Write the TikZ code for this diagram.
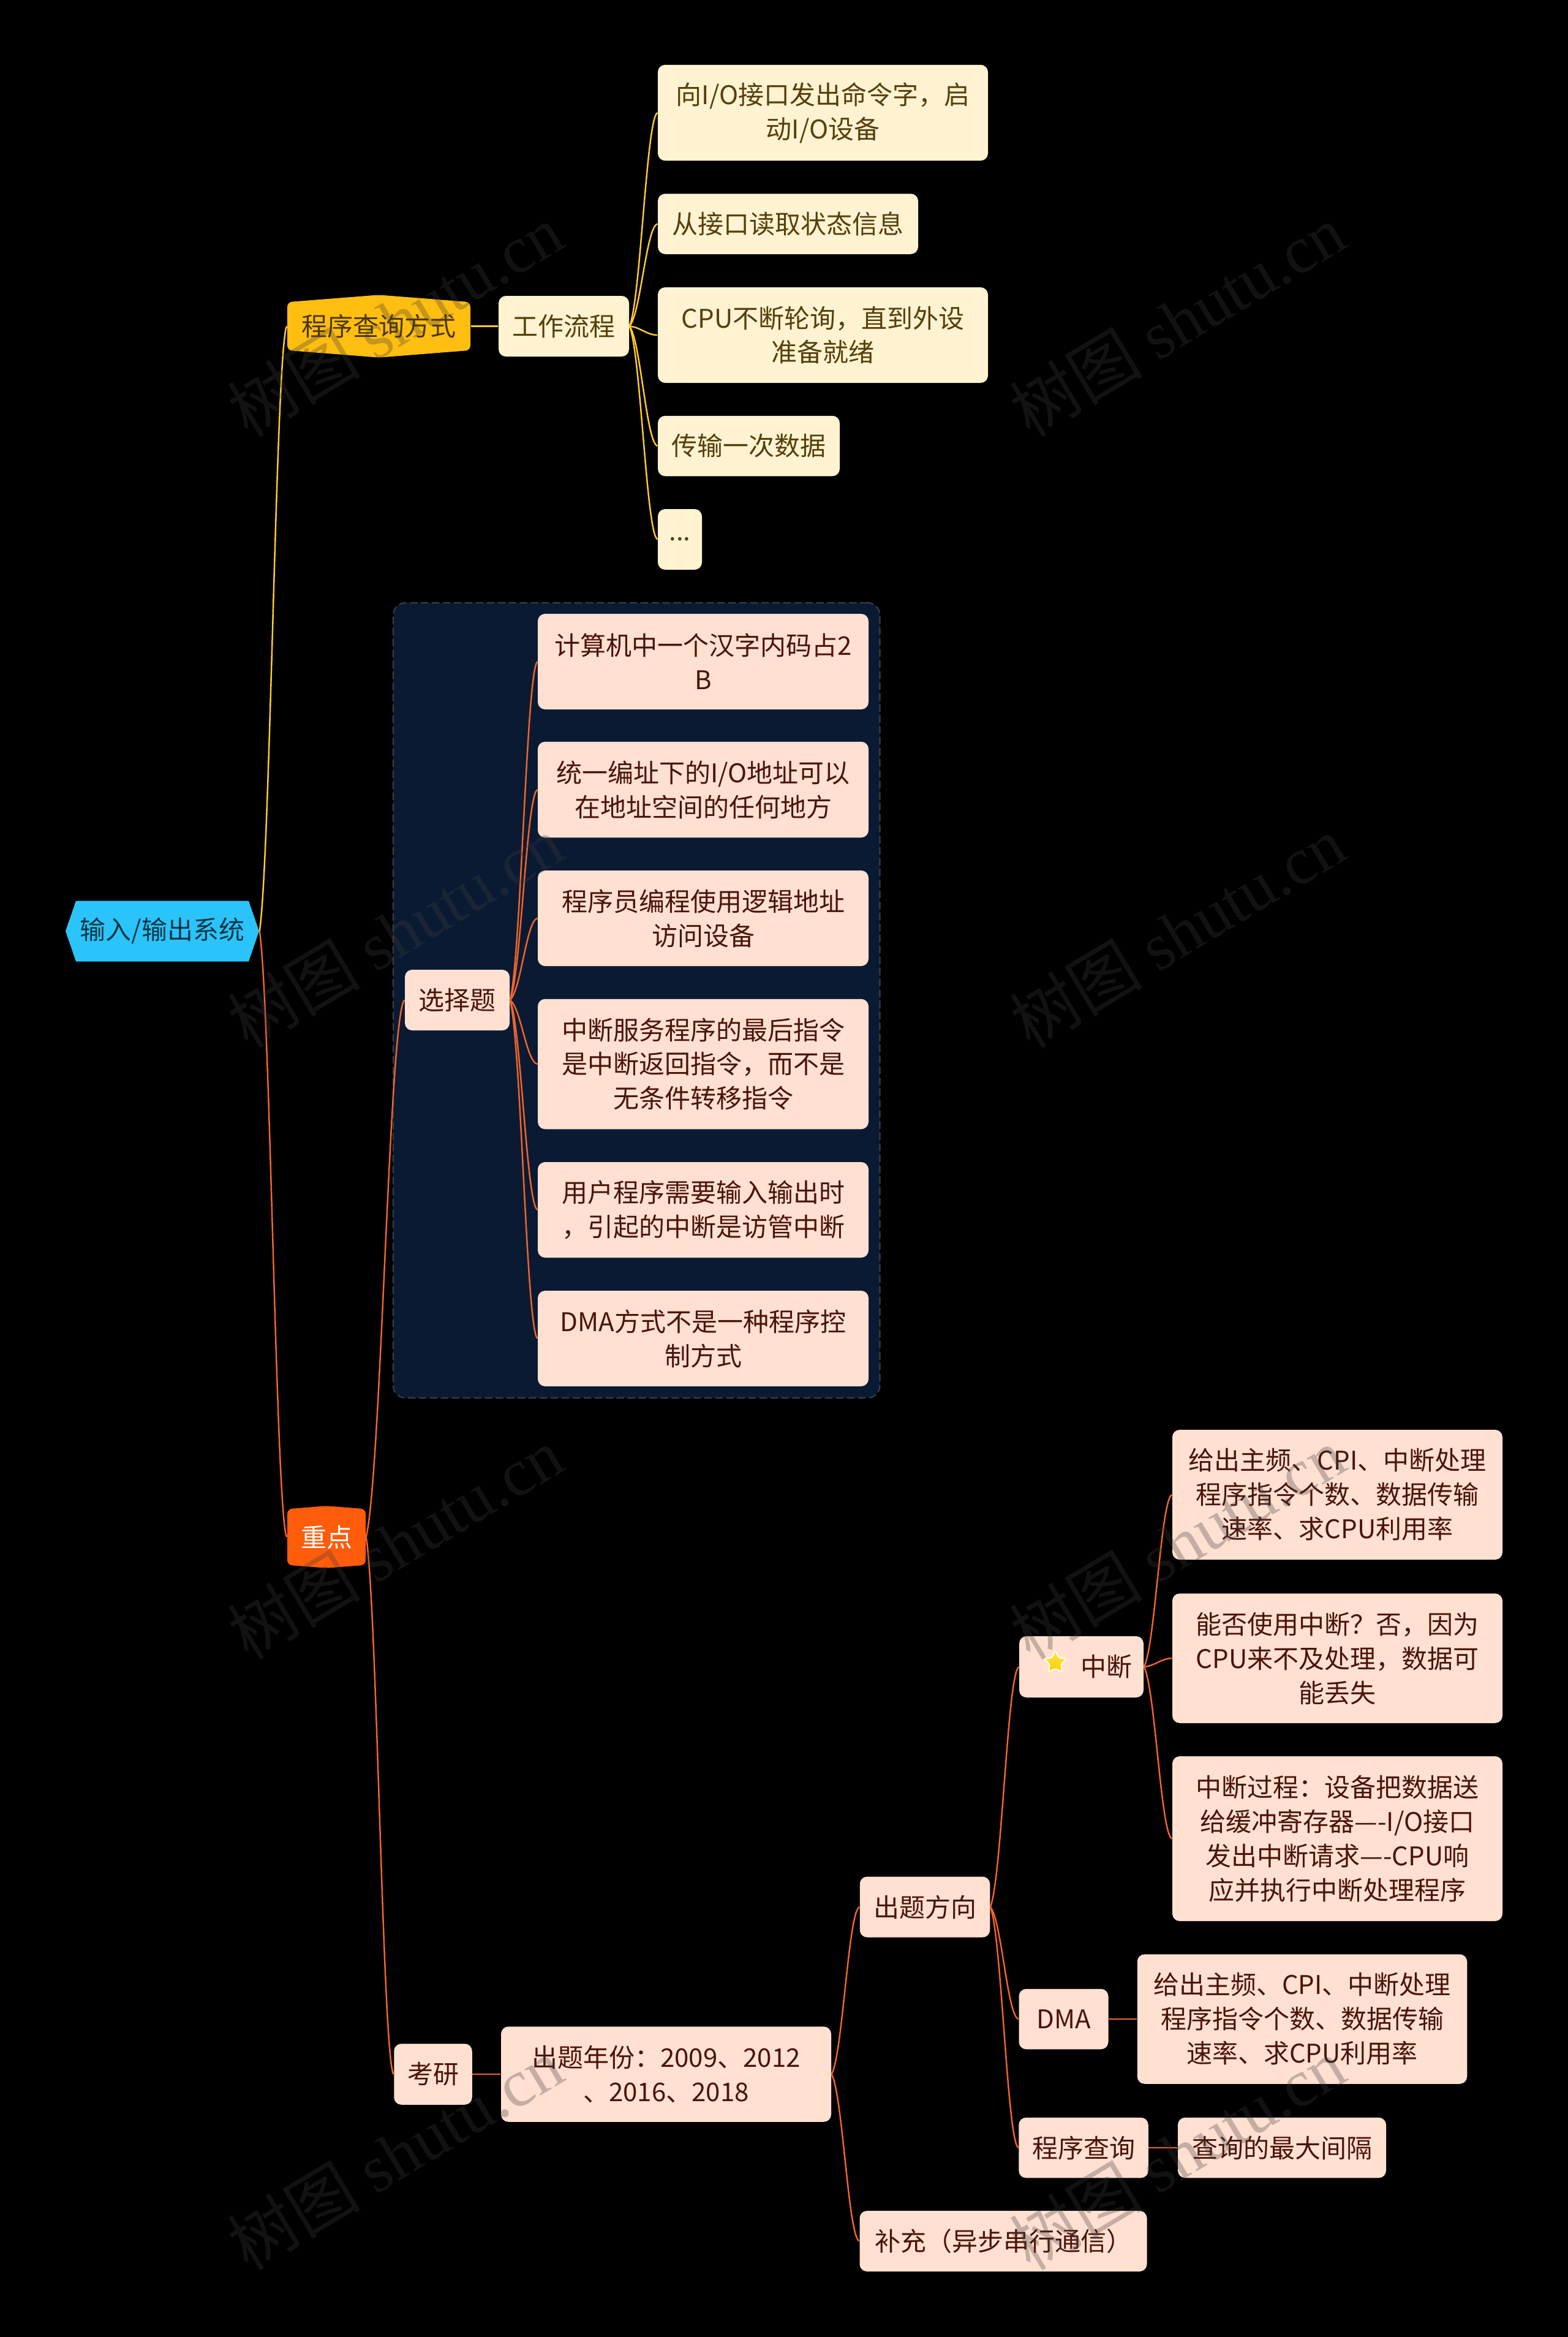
\documentclass[tikz,border=0pt]{standalone}
\usepackage{fontspec}
\usepackage{xcolor}
\usepackage{tikz}
\usetikzlibrary{calc, shapes.geometric, shapes.symbols}
\setmainfont{Noto Sans CJK SC}
\newfontfamily\wmlatin{Liberation Serif}
\definecolor{rootblue}{HTML}{2AC4FB}
\definecolor{rootink}{HTML}{0C3646}
\definecolor{proggold}{HTML}{FFBE10}
\definecolor{progink}{HTML}{4A3606}
\definecolor{keyorange}{HTML}{FF5C0B}
\definecolor{creamfill}{HTML}{FFF3D1}
\definecolor{creamink}{HTML}{563F0C}
\definecolor{peachfill}{HTML}{FFE0D1}
\definecolor{peachink}{HTML}{4A140A}
\definecolor{groupfill}{HTML}{0A1A33}
\definecolor{groupedge}{HTML}{383E46}
\definecolor{linkyellow}{HTML}{FFCB2E}
\definecolor{linkorange}{HTML}{F0652B}
\definecolor{wmgray}{HTML}{3C3C3C}

\begin{document}
\begin{tikzpicture}[
    basebox/.style={rectangle, rounded corners=0.12cm, inner sep=0pt, align=center, font=\fontsize{11.95}{15.93}\selectfont},
    creambox/.style={basebox, fill=creamfill, text=creamink},
    peachbox/.style={basebox, fill=peachfill, text=peachink},
    groupbox/.style={rectangle, rounded corners=0.2cm, draw=groupedge, fill=groupfill, line width=0.6pt, dash pattern=on 3.5pt off 1.6pt, inner sep=0pt},
    rootbox/.style={signal, signal to=east and west, signal pointer angle=142, fill=rootblue, text=rootink, inner sep=0pt, font=\fontsize{11.95}{15.93}\selectfont},
    mainbox/.style={signal, signal to=north and south, signal pointer angle=171, rounded corners=0.08cm, fill=#1, inner sep=0pt, font=\fontsize{11.95}{15.93}\selectfont},
    curved/.style={to path={let \p1=(\tikztostart), \p2=(\tikztotarget) in .. controls ({\x1+0.4*(\x2-\x1)},{\y1+0.12*(\y2-\y1)}) and ({\x1+0.6*(\x2-\x1)},{\y1+0.97*(\y2-\y1)}) .. (\tikztotarget)}},
    ylink/.style={draw=linkyellow, line width=0.7pt, curved},
    olink/.style={draw=linkorange, line width=0.7pt, curved},
    wmtext/.style={rotate=31, text=wmgray, text opacity=0.3, font=\fontsize{31}{31}\selectfont},
]

\fill[black] (0, 0) rectangle (25.6, -38.15);
\useasboundingbox (0, 0) rectangle (25.6, -38.15);

\node[groupbox, minimum width=7.945cm, minimum height=12.98cm] (group) at (10.3925, -16.33) {};

\node[rootbox, minimum width=3.16cm, minimum height=0.99cm] (root) at (2.65, -15.20) {输入/输出系统};
\node[mainbox=proggold, text=progink, minimum width=2.99cm, minimum height=0.985cm] (prog) at (6.185, -5.325) {程序查询方式};
\node[mainbox=keyorange, text=white, minimum width=1.28cm, minimum height=0.98cm] (keypt) at (5.33, -25.09) {重点};

% upper branch
\node[creambox, minimum width=2.13cm, minimum height=0.99cm] (flow) at (9.205, -5.325) {工作流程};
\node[creambox, minimum width=5.39cm, minimum height=1.565cm] (cmd) at (13.435, -1.84) {向I/O接口发出命令字，启\\动I/O设备};
\node[creambox, minimum width=4.25cm, minimum height=0.985cm] (status) at (12.865, -3.655) {从接口读取状态信息};
\node[creambox, minimum width=5.39cm, minimum height=1.56cm] (polling) at (13.435, -5.47) {CPU不断轮询，直到外设\\准备就绪};
\node[creambox, minimum width=2.97cm, minimum height=0.985cm] (once) at (12.225, -7.28) {传输一次数据};
\node[creambox, minimum width=0.72cm, minimum height=0.99cm] (more) at (11.10, -8.805) {...};

% choice questions
\node[peachbox, minimum width=1.71cm, minimum height=0.99cm] (choice) at (7.465, -16.325) {选择题};
\node[peachbox, minimum width=5.40cm, minimum height=1.56cm] (qa) at (11.48, -10.80) {计算机中一个汉字内码占2\\B};
\node[peachbox, minimum width=5.40cm, minimum height=1.565cm] (qb) at (11.48, -12.89) {统一编址下的I/O地址可以\\在地址空间的任何地方};
\node[peachbox, minimum width=5.40cm, minimum height=1.56cm] (qc) at (11.48, -14.99) {程序员编程使用逻辑地址\\访问设备};
\node[peachbox, minimum width=5.40cm, minimum height=2.125cm] (qd) at (11.48, -17.37) {中断服务程序的最后指令\\是中断返回指令，而不是\\无条件转移指令};
\node[peachbox, minimum width=5.40cm, minimum height=1.56cm] (qe) at (11.48, -19.75) {用户程序需要输入输出时\\，引起的中断是访管中断};
\node[peachbox, minimum width=5.40cm, minimum height=1.56cm] (qf) at (11.48, -21.85) {DMA方式不是一种程序控\\制方式};

% exam part
\node[peachbox, minimum width=1.275cm, minimum height=0.995cm] (exam) at (7.07, -33.86) {考研};
\node[peachbox, minimum width=5.39cm, minimum height=1.555cm] (years) at (10.875, -33.86) {出题年份：2009、2012\\、2016、2018};
\node[peachbox, minimum width=2.125cm, minimum height=0.99cm] (dirn) at (15.10, -31.13) {出题方向};
\node[peachbox, minimum width=4.69cm, minimum height=0.99cm] (extra) at (16.38, -36.585) {补充（异步串行通信）};

\node[peachbox, minimum width=2.03cm, minimum height=1.0cm] (intr) at (17.655, -27.21) {\hspace*{0.82cm}中断};
\node[star, star points=5, star point ratio=2.1, rounded corners=0.04cm, draw=white!90!yellow, line width=0.7pt, top color=yellow!70!orange!70, bottom color=yellow!60!orange, minimum size=0.4cm, inner sep=0pt] (favstar) at (17.23, -27.14) {};
\node[peachbox, minimum width=5.39cm, minimum height=2.12cm] (ia) at (21.835, -24.40) {给出主频、CPI、中断处理\\程序指令个数、数据传输\\速率、求CPU利用率};
\node[peachbox, minimum width=5.39cm, minimum height=2.115cm] (ib) at (21.835, -27.07) {能否使用中断？否，因为\\CPU来不及处理，数据可\\能丢失};
\node[peachbox, minimum width=5.39cm, minimum height=2.69cm] (ic) at (21.835, -30.015) {中断过程：设备把数据送\\给缓冲寄存器----I/O接口\\发出中断请求----CPU响\\应并执行中断处理程序};

\node[peachbox, minimum width=1.46cm, minimum height=0.985cm] (dma) at (17.365, -32.96) {DMA};
\node[peachbox, minimum width=5.385cm, minimum height=2.115cm] (dmad) at (21.26, -32.96) {给出主频、CPI、中断处理\\程序指令个数、数据传输\\速率、求CPU利用率};
\node[peachbox, minimum width=2.115cm, minimum height=0.985cm] (poll) at (17.69, -35.06) {程序查询};
\node[peachbox, minimum width=3.40cm, minimum height=0.985cm] (gap) at (20.93, -35.06) {查询的最大间隔};

\draw[ylink] (root.east) to (prog.west);
\draw[olink] (root.east) to (keypt.west);
\draw[linkyellow, line width=0.8pt] (prog.east) -- (flow.west);
\foreach \leaf in {cmd, status, polling, once, more} {
    \draw[ylink] (flow.east) to (\leaf.west);
}
\draw[olink] (keypt.east) to (choice.west);
\draw[olink] (keypt.east) to (exam.west);
\foreach \leaf in {qa, qb, qc, qd, qe, qf} {
    \draw[olink] (choice.east) to (\leaf.west);
}
\draw[linkorange, line width=0.8pt] (exam.east) -- (years.west);
\draw[olink] (years.east) to (dirn.west);
\draw[olink] (years.east) to (extra.west);
\foreach \leaf in {intr, dma, poll} {
    \draw[olink] (dirn.east) to (\leaf.west);
}
\foreach \leaf in {ia, ib, ic} {
    \draw[olink] (intr.east) to (\leaf.west);
}
\draw[linkorange, line width=0.8pt] (dma.east) -- (dmad.west);
\draw[linkorange, line width=0.8pt] (poll.east) -- (gap.west);

% watermark
\foreach \wx in {6.45, 19.22} {
    \foreach \wy in {-5.23, -15.21, -25.19, -35.16} {
        \node[wmtext] (wm\wx\wy) at (\wx, \wy) {树图 {\wmlatin shutu.cn}};
    }
}

\end{tikzpicture}
\end{document}
